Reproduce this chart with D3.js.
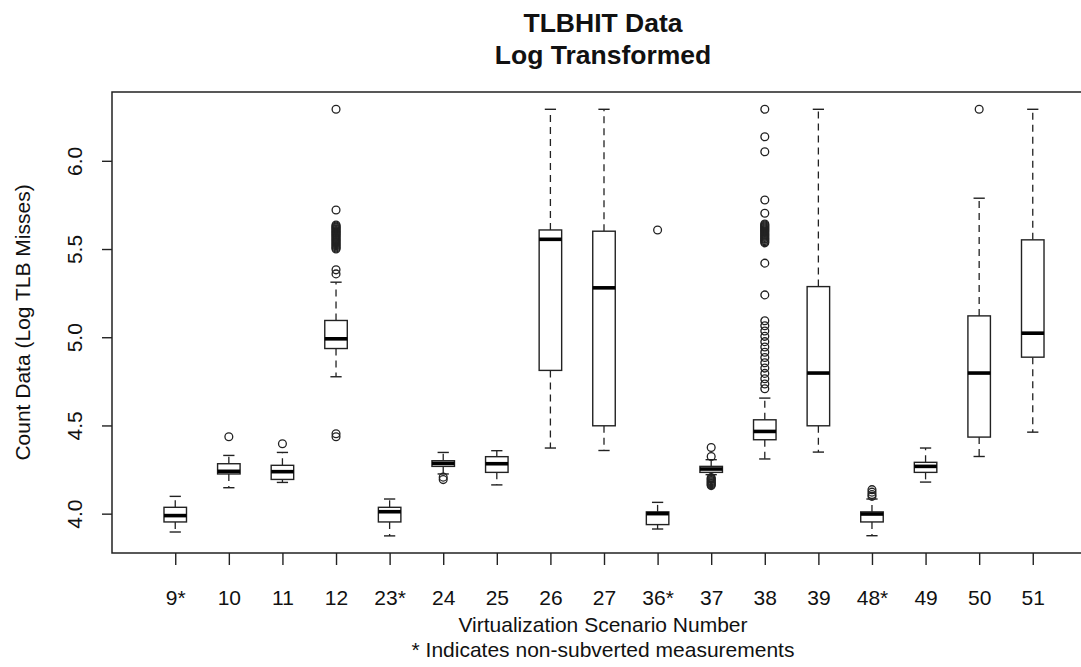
<!DOCTYPE html>
<html>
<head>
<meta charset="utf-8">
<script src="https://cdn.jsdelivr.net/npm/d3@7"></script>
<style>
  body { margin: 0; background: #fff; }
  text { font-family: "Liberation Sans", Arial, sans-serif; fill: #111; }
</style>
</head>
<body>
<script>
// data (log counts)
var categories = ["9*","10","11","12","23*","24","25","26","27","36*","37","38","39","48*","49","50","51"];
var lowWhisker = [3.896, 4.147, 4.177, 4.776, 3.874, 4.225, 4.163, 4.372, 4.358, 3.913, 4.221, 4.310, 4.349, 3.875, 4.179, 4.324, 4.462];
var q1 = [3.953, 4.225, 4.194, 4.936, 3.953, 4.268, 4.234, 4.812, 4.498, 3.938, 4.234, 4.419, 4.498, 3.953, 4.234, 4.434, 4.887];
var medians = [3.989, 4.240, 4.238, 4.991, 4.011, 4.285, 4.283, 5.555, 5.280, 4.000, 4.253, 4.466, 4.797, 3.998, 4.268, 4.797, 5.023];
var q3 = [4.036, 4.283, 4.274, 5.095, 4.036, 4.300, 4.323, 5.608, 5.601, 4.010, 4.268, 4.532, 5.287, 4.010, 4.291, 5.121, 5.552];
var highWhisker = [4.098, 4.330, 4.347, 5.312, 4.083, 4.347, 4.357, 6.292, 6.292, 4.064, 4.306, 4.655, 6.292, 4.083, 4.372, 5.788, 6.292];
var outliers = [
  [],
  [4.436],
  [4.396],
  [6.292, 5.721, 5.636, 5.630, 5.625, 5.620, 5.615, 5.610, 5.604, 5.599, 5.594, 5.589, 5.583, 5.578,
   5.572, 5.566, 5.560, 5.554, 5.548, 5.542, 5.536, 5.530, 5.524, 5.518, 5.512, 5.506, 5.500,
   5.382, 5.359, 4.453, 4.436],
  [],
  [4.207, 4.193],
  [],
  [],
  [],
  [5.608],
  [4.375, 4.324, 4.204, 4.198, 4.193, 4.187, 4.181, 4.175, 4.170, 4.164, 4.159],
  [6.292, 6.136, 6.051, 5.778, 5.703, 5.642, 5.636, 5.630, 5.625, 5.619, 5.613, 5.608, 5.602, 5.596,
   5.590, 5.584, 5.578, 5.572, 5.566, 5.560, 5.555, 5.548, 5.541, 5.535, 5.420, 5.240,
   5.093, 5.065, 5.035, 5.005, 4.975, 4.945, 4.915, 4.885, 4.855, 4.825, 4.795, 4.765, 4.735, 4.708],
  [],
  [4.136, 4.122, 4.108, 4.098],
  [],
  [6.292],
  []
];
var yTicks = [4.0, 4.5, 5.0, 5.5, 6.0];

var width = 1081, height = 667;
var plot = {left: 112, right: 1096, top: 92, bottom: 553};
var boxWidth = 0.42, stapleWidth = 0.21;

var svg = d3.select("body")
    .append("svg")
    .attr("width", width)
    .attr("height", height);

// R style padded range around 0.5 .. n+0.5
var x = d3.scaleLinear()
    .domain([-0.18, categories.length + 1.18])
    .range([plot.left, plot.right]);

var y = d3.scaleLinear()
    .domain([3.777, 6.39])
    .range([plot.bottom, plot.top]);

var boxes = categories.map(function(c, i) {
    return {name: c, pos: i + 1, lo: lowWhisker[i], q1: q1[i], med: medians[i],
            q3: q3[i], hi: highWhisker[i], out: outliers[i]};
});

var g = svg.selectAll(".box")
    .data(boxes)
    .enter()
    .append("g")
    .attr("class", "box");

// dashed whiskers
g.append("line")
    .attr("x1", function(d) { return x(d.pos); })
    .attr("x2", function(d) { return x(d.pos); })
    .attr("y1", function(d) { return y(d.q3); })
    .attr("y2", function(d) { return y(d.hi); })
    .style("stroke", "#222").style("stroke-width", 1.3).style("stroke-dasharray", "7,5");
g.append("line")
    .attr("x1", function(d) { return x(d.pos); })
    .attr("x2", function(d) { return x(d.pos); })
    .attr("y1", function(d) { return y(d.q1); })
    .attr("y2", function(d) { return y(d.lo); })
    .style("stroke", "#222").style("stroke-width", 1.3).style("stroke-dasharray", "7,5");

// staples
["hi", "lo"].forEach(function(k) {
    g.append("line")
        .attr("x1", function(d) { return x(d.pos - stapleWidth / 2); })
        .attr("x2", function(d) { return x(d.pos + stapleWidth / 2); })
        .attr("y1", function(d) { return y(d[k]); })
        .attr("y2", function(d) { return y(d[k]); })
        .style("stroke", "#222").style("stroke-width", 1.4);
});

// boxes
g.append("rect")
    .attr("x", function(d) { return x(d.pos - boxWidth / 2); })
    .attr("width", x(boxWidth) - x(0))
    .attr("y", function(d) { return y(d.q3); })
    .attr("height", function(d) { return y(d.q1) - y(d.q3); })
    .style("fill", "white").style("stroke", "#222").style("stroke-width", 1.4);

// medians
g.append("line")
    .attr("x1", function(d) { return x(d.pos - boxWidth / 2); })
    .attr("x2", function(d) { return x(d.pos + boxWidth / 2); })
    .attr("y1", function(d) { return y(d.med); })
    .attr("y2", function(d) { return y(d.med); })
    .style("stroke", "#000").style("stroke-width", 3.6);

// outliers
g.selectAll(".out")
    .data(function(d) { return d.out.map(function(v) { return {pos: d.pos, v: v}; }); })
    .enter()
    .append("circle")
    .attr("class", "out")
    .attr("cx", function(d) { return x(d.pos); })
    .attr("cy", function(d) { return y(d.v); })
    .attr("r", 3.9)
    .style("fill", "none").style("stroke", "#222").style("stroke-width", 1.3);

// plot frame
svg.append("rect")
    .attr("x", plot.left).attr("y", plot.top)
    .attr("width", plot.right - plot.left)
    .attr("height", plot.bottom - plot.top)
    .style("fill", "none").style("stroke", "#222").style("stroke-width", 1.5);

// axes
var xAxis = svg.append("g")
    .attr("transform", "translate(0," + plot.bottom + ")")
    .call(d3.axisBottom(x)
        .tickValues(d3.range(1, categories.length + 1))
        .tickFormat(function(d) { return categories[d - 1]; })
        .tickSize(12).tickSizeOuter(0));
xAxis.select(".domain").remove();
xAxis.selectAll("line").style("stroke", "#222").style("stroke-width", 1.4);
xAxis.selectAll("text")
    .attr("y", 52).attr("dy", 0)
    .style("font-size", "21px").style("fill", "#111")
    .style("font-family", "'Liberation Sans', Arial, sans-serif");

var yAxis = svg.append("g")
    .attr("transform", "translate(" + plot.left + ",0)")
    .call(d3.axisLeft(y)
        .tickValues(yTicks)
        .tickFormat(d3.format(".1f"))
        .tickSize(10).tickSizeOuter(0));
yAxis.select(".domain").remove();
yAxis.selectAll("line").style("stroke", "#222").style("stroke-width", 1.4);
yAxis.selectAll("text")
    .attr("transform", "rotate(-90)")
    .attr("x", 0).attr("y", -30).attr("dy", 0)
    .style("text-anchor", "middle")
    .style("font-size", "21px").style("fill", "#111")
    .style("font-family", "'Liberation Sans', Arial, sans-serif");

// titles
svg.append("text")
    .attr("x", 603).attr("y", 32)
    .style("text-anchor", "middle").style("font-size", "26.5px").style("font-weight", "bold")
    .text("TLBHIT Data");
svg.append("text")
    .attr("x", 603).attr("y", 64)
    .style("text-anchor", "middle").style("font-size", "26.5px").style("font-weight", "bold")
    .text("Log Transformed");

svg.append("text")
    .attr("x", 603).attr("y", 632)
    .style("text-anchor", "middle").style("font-size", "21px")
    .text("Virtualization Scenario Number");
svg.append("text")
    .attr("x", 603).attr("y", 657)
    .style("text-anchor", "middle").style("font-size", "21px")
    .text("* Indicates non-subverted measurements");

svg.append("text")
    .attr("transform", "translate(30," + (plot.top + plot.bottom) / 2 + ") rotate(-90)")
    .style("text-anchor", "middle").style("font-size", "21px")
    .text("Count Data (Log TLB Misses)");
</script>
</body>
</html>
